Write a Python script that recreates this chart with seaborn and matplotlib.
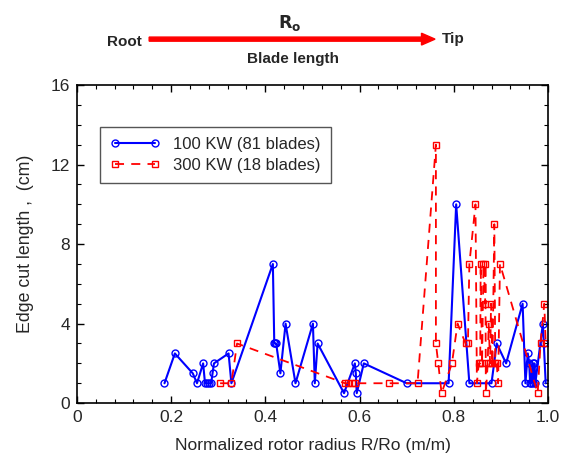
import matplotlib
matplotlib.use("Agg")
import matplotlib.pyplot as plt
import seaborn as sns
import pandas as pd
from matplotlib.ticker import MultipleLocator

# ---- data ----
x100 = [0.186, 0.208, 0.246, 0.255, 0.268, 0.272, 0.276, 0.281, 0.285, 0.288, 0.291,
        0.322, 0.328, 0.416, 0.419, 0.421, 0.423, 0.432, 0.443, 0.464, 0.501, 0.505,
        0.511, 0.567, 0.590, 0.592, 0.594, 0.609, 0.700, 0.789, 0.805, 0.833, 0.880,
        0.891, 0.911, 0.946, 0.952, 0.957, 0.960, 0.962, 0.964, 0.967, 0.969, 0.971,
        0.973, 0.989, 0.991, 0.995]
y100 = [1, 2.5, 1.5, 1, 2, 1, 1, 1, 1, 1.5, 2,
        2.5, 1, 7, 3, 3, 3, 1.5, 4, 1, 4, 1,
        3, 0.5, 2, 1.5, 0.5, 2, 1, 1, 10, 1, 1,
        3, 2, 5, 1, 2.5, 2, 1, 1, 2, 1, 2,
        1, 4, 3, 1]

x300 = [0.304, 0.328, 0.340, 0.569, 0.576, 0.583, 0.590, 0.663, 0.723, 0.762, 0.762,
        0.767, 0.774, 0.796, 0.808, 0.825, 0.830, 0.833, 0.846, 0.849, 0.853, 0.856,
        0.857, 0.860, 0.863, 0.867, 0.867, 0.868, 0.872, 0.874, 0.877, 0.879, 0.882,
        0.886, 0.888, 0.891, 0.894, 0.898, 0.978, 0.984, 0.992, 0.995]
y300 = [1, 1, 3, 1, 1, 1, 1, 1, 1, 13, 3,
        2, 0.5, 2, 4, 3, 3, 7, 10, 1, 2, 2,
        7, 2, 7, 5, 7, 0.5, 2, 4, 2, 5, 2,
        9, 2, 2, 1, 7, 0.5, 3, 5, 3]

label100 = "100 KW (81 blades)"
label300 = "300 KW (18 blades)"
xticks = [0, 0.2, 0.4, 0.6, 0.8, 1.0]
xticklabels = ["0", "0.2", "0.4", "0.6", "0.8", "1.0"]
yticks = [0, 4, 8, 12, 16]
yticklabels = ["0", "4", "8", "12", "16"]

df100 = pd.DataFrame({"x": x100, "y": y100})
df300 = pd.DataFrame({"x": x300, "y": y300})

sns.set_style("ticks")
plt.rcParams["font.family"] = ["Liberation Sans", "DejaVu Sans"]
plt.rcParams["xtick.direction"] = "in"
plt.rcParams["ytick.direction"] = "in"

fig = plt.figure(figsize=(5.65, 4.55), dpi=100)
ax = fig.add_axes([0.136, 0.114, 0.834, 0.699])

sns.lineplot(data=df100, x="x", y="y", ax=ax, sort=False, estimator=None,
             color="#0000ff", lw=1.5, marker="o", markersize=5,
             markerfacecolor="none", markeredgecolor="#0000ff", markeredgewidth=1.0,
             label=label100)
sns.lineplot(data=df300, x="x", y="y", ax=ax, sort=False, estimator=None,
             color="#ff0000", lw=1.3, linestyle=(0, (5, 4)), marker="s", markersize=5,
             markerfacecolor="none", markeredgecolor="#ff0000", markeredgewidth=1.0,
             label=label300)

ax.set_xlim(0, 1.0)
ax.set_ylim(0, 16)
ax.set_xticks(xticks)
ax.set_xticklabels(xticklabels)
ax.set_yticks(yticks)
ax.set_yticklabels(yticklabels)
ax.xaxis.set_minor_locator(MultipleLocator(0.04))
ax.yaxis.set_minor_locator(MultipleLocator(1))
ax.tick_params(which="both", top=True, right=True, direction="in", color="black")
ax.tick_params(which="major", length=5, width=1, labelsize=12.5, pad=5)
ax.tick_params(which="minor", length=3, width=0.8)
for s in ax.spines.values():
    s.set_linewidth(1.2)
    s.set_color("black")

ax.set_xlabel("Normalized rotor radius R/Ro (m/m)", fontsize=12.5, labelpad=9)
ax.set_ylabel("Edge cut length ,  (cm)", fontsize=12.8, labelpad=12)

leg = ax.legend(loc="lower left", bbox_to_anchor=(0.049, 0.692), borderaxespad=0,
                numpoints=2, fontsize=12, frameon=True, fancybox=False,
                edgecolor="#555555", handlelength=3.0, borderpad=0.6,
                labelspacing=0.35, handletextpad=0.8, framealpha=1)
leg.get_frame().set_linewidth(1.0)

# top annotation
fig.text(0.189, 0.907, "Root", fontsize=11, fontweight="bold", ha="left", va="center")
fig.text(0.782, 0.914, "Tip", fontsize=11, fontweight="bold", ha="left", va="center")
fig.text(0.513, 0.950, r"$\mathbf{R_o}$", fontsize=12.5, ha="center", va="center")
fig.text(0.519, 0.870, "Blade length", fontsize=11, fontweight="bold", ha="center", va="center")
fig.patches.append(matplotlib.patches.FancyArrow(
    0.264, 0.914, 0.506, 0.0, width=0.009, head_width=0.026, head_length=0.024,
    length_includes_head=True, color="#ff0000", transform=fig.transFigure, figure=fig))

fig.savefig("out.png", dpi=100)
